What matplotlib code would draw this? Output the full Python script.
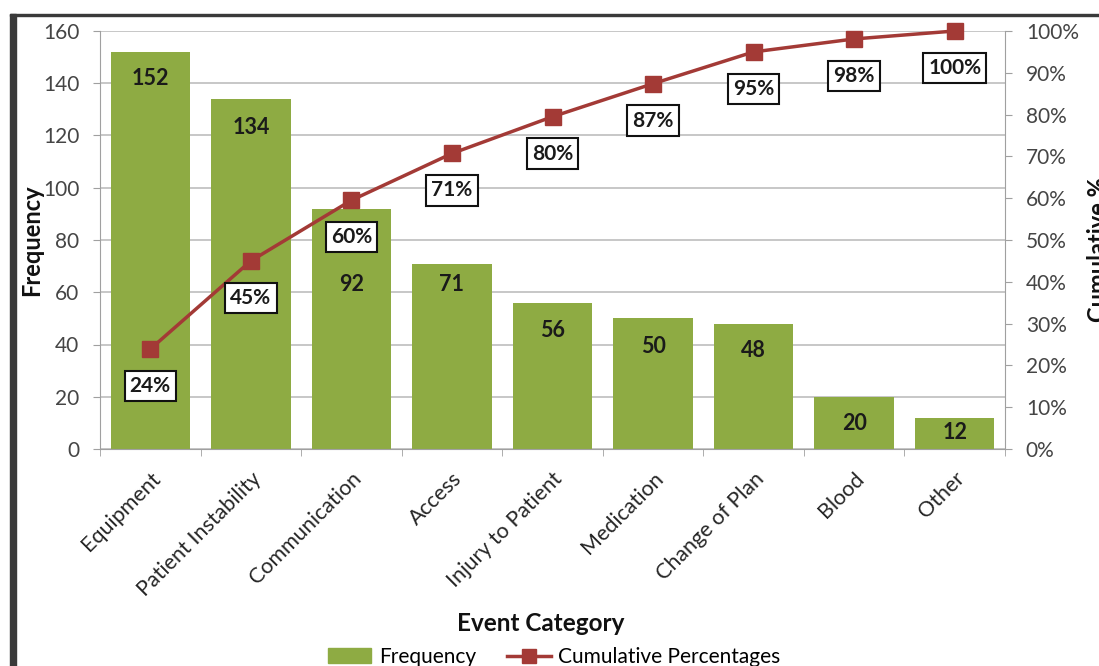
import matplotlib
matplotlib.use("Agg")
import matplotlib.pyplot as plt
from matplotlib.patches import Rectangle, Patch
from matplotlib.lines import Line2D
import numpy as np

categories = ["Equipment", "Patient Instability", "Communication", "Access",
              "Injury to Patient", "Medication", "Change of Plan", "Blood", "Other"]
frequency = [152, 134, 92, 71, 56, 50, 48, 20, 12]
cumulative_pct = [23.9, 45.0, 59.5, 70.7, 79.5, 87.4, 95.0, 98.1, 100.0]
pct_labels = ["24%", "45%", "60%", "71%", "80%", "87%", "95%", "98%", "100%"]
left_ticks = [0, 20, 40, 60, 80, 100, 120, 140, 160]
right_ticks = [0, 10, 20, 30, 40, 50, 60, 70, 80, 90, 100]

# label offsets (pixels below bar top)
bar_label_offsets = [27, 29, 76, 21, 28, 28, 27, 27, 15]

BAR = "#8EAB43"
LINE = "#A33A36"
TXT = "#454545"
FONT = ["Lato", "DejaVu Sans"]
plt.rcParams["font.family"] = FONT

W, H = 1099, 666
fig = plt.figure(figsize=(W / 100, H / 100), dpi=100)
ax = fig.add_axes([100 / W, 1 - 449 / H, 905 / W, 418 / H])
ax2 = ax.twinx()

x = np.arange(len(categories))
ax.bar(x, frequency, width=0.79, color=BAR, zorder=2)
ax.set_xlim(-0.5, len(categories) - 0.5)
ax.set_ylim(0, 160)
ax.set_yticks(left_ticks)
ax.yaxis.grid(True, color="#bdbdbd", lw=1.2, zorder=0)
ax.set_axisbelow(True)
ax.tick_params(axis="y", labelsize=15, labelcolor=TXT, color="#a0a0a0", length=5, pad=10)
ax.set_xticks(x)
ax.set_xticklabels(categories, rotation=45, ha="right", rotation_mode="anchor",
                   fontsize=15.5, color="#262626")
ax.tick_params(axis="x", length=0, pad=14)
ax.set_xticks(np.arange(-0.5, len(categories), 1), minor=True)
ax.tick_params(axis="x", which="minor", length=5, color="#a0a0a0")
for s in ["top", "right"]:
    ax.spines[s].set_visible(False)
ax.spines["left"].set_color("#a0a0a0")
ax.spines["bottom"].set_color("#a0a0a0")
ax.set_ylabel("Frequency", fontsize=17, fontweight="bold", color="#111111")
ax.yaxis.set_label_coords((43 - 100) / 905, 0.5)
ax.set_xlabel("Event Category", fontsize=17.5, fontweight="bold", color="#111111")
ax.xaxis.set_label_coords((541 - 100) / 905, (449 - 612) / 418)

for xi, v, off in zip(x, frequency, bar_label_offsets):
    ax.annotate(str(v), (xi, v), xytext=(0, -off), textcoords="offset pixels",
                ha="center", va="center", fontsize=15.5, fontweight="bold", color="#1a1a1a", zorder=3)

ax2.plot(x, cumulative_pct, color=LINE, lw=2.5, marker="s", markersize=12,
         markerfacecolor=LINE, markeredgecolor=LINE, zorder=4, clip_on=False)
ax2.set_ylim(0, 100)
ax2.set_yticks(right_ticks)
ax2.set_yticklabels([f"{t}%" for t in right_ticks])
ax2.tick_params(axis="y", labelsize=15, labelcolor=TXT, color="#a0a0a0", length=5, pad=10)
for s in ["top", "left", "bottom"]:
    ax2.spines[s].set_visible(False)
ax2.spines["right"].set_color("#a0a0a0")

for xi, v, lab in zip(x, cumulative_pct, pct_labels):
    ax2.annotate(lab, (xi, v), xytext=(0, -37), textcoords="offset pixels",
                 ha="center", va="center", fontsize=15, fontweight="bold", color="#1a1a1a",
                 bbox=dict(boxstyle="square,pad=0.25", fc="white", ec="#111111", lw=1.5), zorder=5)

fig.text(1099 / W, 1 - 250 / H, "Cumulative %", rotation=90, ha="center", va="center",
         fontsize=17, fontweight="bold", color="#111111")

handles = [Patch(facecolor=BAR, edgecolor=BAR),
           Line2D([0], [0], color=LINE, lw=2.5, marker="s", markersize=10)]
fig.legend(handles, ["Frequency", "Cumulative Percentages"], loc="center",
           bbox_to_anchor=(554 / W, 1 - 657 / H), ncol=2, frameon=False, fontsize=15,
           handlelength=2.1, columnspacing=1.5, handletextpad=0.35)

# screenshot frame
fig.patches.append(Rectangle((10 / W, 0), 6 / W, 1 - 14 / H, transform=fig.transFigure,
                             color="#3a3a3a", zorder=10))
fig.patches.append(Rectangle((10 / W, 1 - 16 / H), 1, 2.5 / H, transform=fig.transFigure,
                             color="#3a3a3a", zorder=10))

fig.savefig("out.png", dpi=100)
